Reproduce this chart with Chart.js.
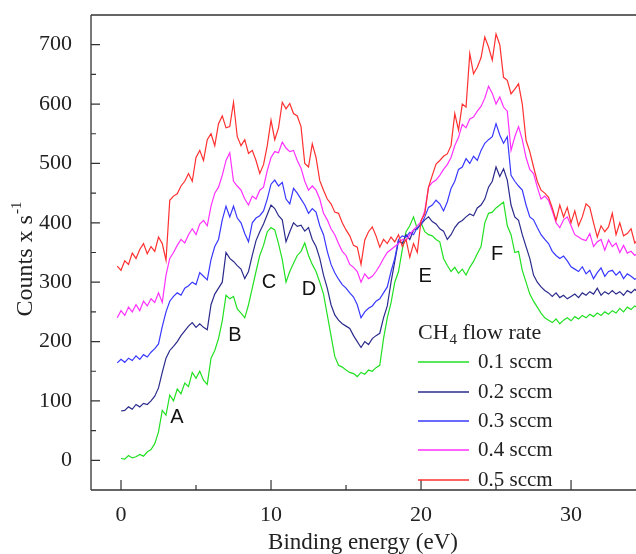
<!DOCTYPE html>
<html><head><meta charset="utf-8">
<script src="https://cdn.jsdelivr.net/npm/chart.js@4/dist/chart.umd.min.js"></script>
<style>html,body{margin:0;padding:0;background:#fff}#wrap{width:636px;height:554px;position:relative}</style>
</head><body><div id="wrap"><canvas id="c" width="636" height="554"></canvas></div>
<script>
// Binding energy (eV)
const energy = [-0.25,
0,0.25,0.5,0.75, 1,1.25,1.5,1.75, 2,2.25,2.5,2.75, 3,3.25,3.5,3.75, 4,4.25,4.5,4.75,
5,5.25,5.5,5.75, 6,6.25,6.5,6.75, 7,7.25,7.5,7.75, 8,8.25,8.5,8.75, 9,9.25,9.5,9.75,
10,10.25,10.5,10.75, 11,11.25,11.5,11.75, 12,12.25,12.5,12.75, 13,13.25,13.5,13.75, 14,14.25,14.5,14.75,
15,15.25,15.5,15.75, 16,16.25,16.5,16.75, 17,17.25,17.5,17.75, 18,18.25,18.5,18.75, 19,19.25,19.5,19.75,
20,20.25,20.5,20.75, 21,21.25,21.5,21.75, 22,22.25,22.5,22.75, 23,23.25,23.5,23.75, 24,24.25,24.5,24.75,
25,25.25,25.5,25.75, 26,26.25,26.5,26.75, 27,27.25,27.5,27.75, 28,28.25,28.5,28.75, 29,29.25,29.5,29.75,
30,30.25,30.5,30.75, 31,31.25,31.5,31.75, 32,32.25,32.5,32.75, 33,33.25,33.5,33.75, 34,34.25,34.5];

const flow01 = [null,
3,2,8,4, 6,10,7,14, 18,28,48,84, 76,110,100,120, 112,130,124,148,
138,150,135,128, 172,185,205,235, 278,272,276,255, 248,240,262,290, 318,345,362,385,
392,388,365,338, 300,318,332,345, 352,366,345,330, 318,300,280,245, 210,175,160,157,
152,148,146,141, 148,145,152,150, 156,160,205,240, 265,300,318,355, 385,395,410,390,
400,385,380,378, 372,368,340,328, 318,325,315,322, 312,325,335,348, 360,400,416,418,
425,430,435,395, 380,350,352,320, 300,280,268,258, 248,240,236,232, 238,230,236,240,
235,242,238,244, 240,246,242,248, 244,250,246,252, 248,256,250,258, 254,260,256];

const flow02 = [null,
83,84,90,86, 94,90,96,94, 100,108,122,148, 172,185,192,200, 210,218,226,232,
224,230,224,220, 262,280,290,300, 350,340,335,328, 322,306,318,345, 370,385,398,414,
430,424,412,405, 368,385,400,394, 396,386,392,372, 360,340,312,290, 262,245,236,230,
226,222,210,200, 190,200,195,205, 210,214,240,260, 300,335,370,365, 380,372,388,390,
398,405,410,402, 398,390,386,372, 380,392,400,404, 410,415,412,425, 430,440,460,470,
494,478,491,472, 430,410,404,380, 360,340,312,300, 292,286,282,276, 282,274,278,272,
276,280,274,282, 278,284,280,290, 278,284,280,286, 280,284,278,286, 282,288,282];

const flow03 = [164,
170,165,172,168, 176,170,178,174, 182,188,196,225, 250,268,276,282, 278,290,294,300,
296,316,310,304, 338,360,372,405, 428,410,428,408, 400,382,368,400, 408,412,420,440,
465,472,462,468, 440,432,458,450, 440,430,416,424, 418,395,380,352, 330,316,305,296,
290,282,275,262, 240,250,256,260, 268,272,282,292, 318,340,372,378, 376,384,380,392,
396,410,426,430, 438,432,420,435, 458,470,490,494, 508,500,512,505, 522,534,540,545,
567,548,534,545, 480,470,462,455, 430,410,405,392, 380,372,365,352, 345,340,344,336,
326,322,318,326, 314,320,306,316, 324,310,318,320, 312,318,306,314, 310,305,308];

const flow04 = [240,
252,244,258,250, 262,252,268,260, 272,266,282,266, 312,340,350,362, 372,366,380,390,
380,398,404,395, 428,450,460,480, 505,518,470,462, 455,440,430,445, 440,455,460,488,
510,520,518,536, 526,520,522,505, 492,470,455,462, 455,440,416,405, 390,380,365,352,
345,330,325,318, 300,314,306,310, 318,328,340,350, 355,360,365,372, 370,380,388,395,
402,420,460,468, 472,480,490,498, 510,530,544,566, 560,575,578,588, 596,610,630,618,
600,612,595,588, 522,545,562,540, 510,490,483,460, 440,445,438,420, 400,392,405,410,
395,380,376,372, 370,382,360,368, 372,354,371,360, 366,350,362,349, 352,345,350];

const flow05 = [327,
320,336,330,349, 340,355,365,348, 360,352,376,365, 337,438,445,449, 462,470,483,470,
510,522,505,540, 550,530,567,580, 560,562,603,545, 530,540,517,522, 505,483,498,530,
573,540,560,603, 592,601,584,580, 562,500,494,533, 510,471,455,440, 432,418,416,400,
388,378,362,359, 330,371,385,393, 378,359,372,365, 376,368,380,360, 372,342,365,350,
404,415,460,480, 499,505,512,516, 530,584,556,600, 595,685,651,662, 678,713,696,674,
718,700,645,640, 617,625,634,600, 539,520,494,470, 455,450,443,425, 404,430,410,426,
400,420,395,410, 432,426,400,376, 395,385,393,416, 380,400,378,382, 390,366,372];

const seriesLabels = ['0.1 sccm','0.2 sccm','0.3 sccm','0.4 sccm','0.5 sccm'];
const seriesColors = ['#22e022','#2b2b8c','#3838ff','#ff30ff','#ff3030'];
const seriesValues = [flow01, flow02, flow03, flow04, flow05];

const xTickValues = [0,10,20,30];
const xMinorTicks = [5,15,25];
const yTickValues = [0,100,200,300,400,500,600,700];
const yMinorTicks = [-50,50,150,250,350,450,550,650,750];

const peakLabels = ['A','B','C','D','E','F'];
const peakX = [3.73, 7.6, 9.87, 12.53, 20.27, 25.07];
const peakY = [72, 211, 300, 287, 310, 347];

const legendTitle = ['CH','4',' flow rate'];
const xTitle = 'Binding energy (eV)';
const yTitle = ['Counts x s','-1'];

const datasets = seriesValues.map((vals, i) => ({
  label: seriesLabels[i],
  data: energy.map((e, k) => ({x: e, y: vals[k]})),
  borderColor: seriesColors[i],
  borderWidth: 1.2,
  pointRadius: 0,
  tension: 0,
  fill: false,
  spanGaps: false,
  order: 5 - i
}));

const serif = "'Liberation Serif', 'Times New Roman', serif";
const sans = "'Liberation Sans', Arial, sans-serif";

const decor = {
  id: 'decor',
  afterDraw(chart) {
    const ctx = chart.ctx;
    const a = chart.chartArea;
    const xs = chart.scales.x, ys = chart.scales.y;
    ctx.save();
    ctx.strokeStyle = '#333';
    ctx.lineWidth = 1.3;
    // axes frame (left, bottom, top)
    ctx.beginPath();
    ctx.moveTo(a.left, a.top); ctx.lineTo(a.right, a.top);
    ctx.moveTo(a.left, a.top); ctx.lineTo(a.left, a.bottom);
    ctx.moveTo(a.left, a.bottom); ctx.lineTo(a.right, a.bottom);
    ctx.stroke();
    // inward ticks
    ctx.lineWidth = 1.2;
    ctx.beginPath();
    yTickValues.forEach(v => { const p = ys.getPixelForValue(v); ctx.moveTo(a.left, p); ctx.lineTo(a.left + 9, p); });
    yMinorTicks.forEach(v => { const p = ys.getPixelForValue(v); if (p > a.top + 1 && p < a.bottom - 1) { ctx.moveTo(a.left, p); ctx.lineTo(a.left + 5, p); } });
    xTickValues.forEach(v => { const p = xs.getPixelForValue(v); ctx.moveTo(p, a.bottom); ctx.lineTo(p, a.bottom - 10); });
    xMinorTicks.forEach(v => { const p = xs.getPixelForValue(v); ctx.moveTo(p, a.bottom); ctx.lineTo(p, a.bottom - 5); });
    ctx.stroke();

    // peak labels
    ctx.fillStyle = '#111';
    ctx.font = '20px ' + sans;
    ctx.textAlign = 'center';
    ctx.textBaseline = 'middle';
    peakLabels.forEach((t, i) => {
      ctx.fillText(t, xs.getPixelForValue(peakX[i]), ys.getPixelForValue(peakY[i]));
    });

    // legend
    ctx.fillStyle = '#222';
    ctx.textAlign = 'left';
    ctx.textBaseline = 'middle';
    const lx = 418, ly0 = 333, step = 29.3;
    ctx.font = '22px ' + serif;
    let cx = lx;
    ctx.fillText(legendTitle[0], cx, ly0); cx += ctx.measureText(legendTitle[0]).width + 1;
    ctx.font = '15px ' + serif;
    ctx.fillText(legendTitle[1], cx, ly0 + 7); cx += ctx.measureText(legendTitle[1]).width;
    ctx.font = '22px ' + serif;
    ctx.fillText(legendTitle[2], cx, ly0);
    ctx.font = '21px ' + serif;
    seriesLabels.forEach((lab, i) => {
      const y = Math.round(ly0 + step * (i + 1));
      ctx.strokeStyle = seriesColors[i];
      ctx.lineWidth = 1.5;
      ctx.beginPath(); ctx.moveTo(lx, y); ctx.lineTo(lx + 51, y); ctx.stroke();
      ctx.fillText(lab, lx + 60, y);
    });

    // axis titles
    ctx.fillStyle = '#222';
    ctx.font = '23px ' + serif;
    ctx.textAlign = 'center';
    ctx.fillText(xTitle, 363, 543);
    ctx.save();
    ctx.translate(26, 259);
    ctx.rotate(-Math.PI / 2);
    ctx.font = '24px ' + serif;
    const w1 = ctx.measureText(yTitle[0]).width;
    ctx.font = '15px ' + serif;
    const w2 = ctx.measureText(yTitle[1]).width;
    const tot = w1 + w2 + 1;
    ctx.textAlign = 'left';
    ctx.font = '24px ' + serif;
    ctx.fillText(yTitle[0], -tot / 2, 0);
    ctx.font = '15px ' + serif;
    ctx.fillText(yTitle[1], -tot / 2 + w1 + 1, -9);
    ctx.restore();
    ctx.restore();
  }
};

new Chart(document.getElementById('c'), {
  type: 'line',
  data: { datasets },
  options: {
    responsive: false,
    animation: false,
    events: [],
    layout: { padding: { top: 15, left: 0, right: 0, bottom: 0 } },
    plugins: { legend: { display: false }, tooltip: { enabled: false } },
    scales: {
      x: {
        type: 'linear', min: -2, max: 34.33,
        grid: { display: false }, border: { display: false },
        afterFit(s) { s.height = 64; s.paddingLeft = 0; s.paddingRight = 0; },
        afterBuildTicks(s) { s.ticks = xTickValues.map(v => ({ value: v })); },
        ticks: { font: { family: serif, size: 22 }, color: '#222', padding: 4, maxRotation: 0, autoSkip: false }
      },
      y: {
        type: 'linear', min: -50, max: 750,
        grid: { display: false }, border: { display: false },
        afterFit(s) { s.width = 91; s.paddingTop = 0; s.paddingBottom = 0; },
        afterBuildTicks(s) { s.ticks = yTickValues.map(v => ({ value: v })); },
        ticks: { font: { family: serif, size: 22 }, color: '#222', padding: 11, autoSkip: false }
      }
    }
  },
  plugins: [decor]
});
</script>
</body></html>
